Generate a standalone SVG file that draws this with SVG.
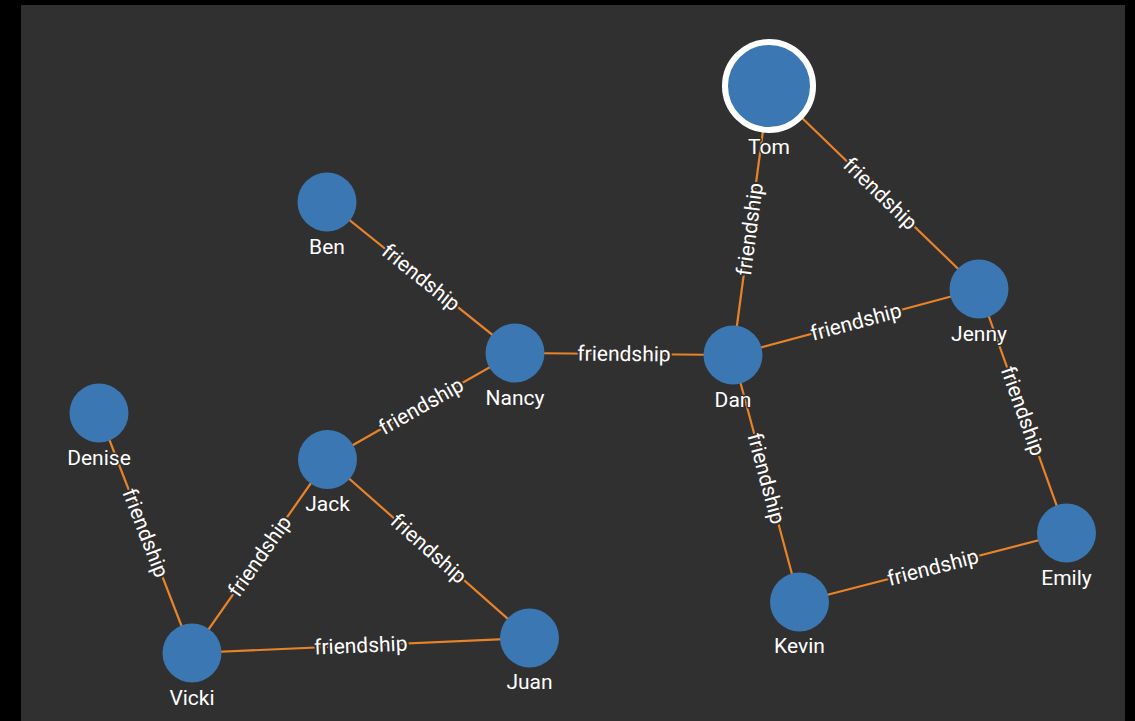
<svg xmlns="http://www.w3.org/2000/svg" width="1135" height="721" viewBox="0 0 1135 721">
<style>
.edge{stroke:#e8832a;stroke-width:2.2;fill:none}
.node{fill:#3a77b3}
.sel{fill:#3a77b3;stroke:#ffffff;stroke-width:6}
.nl{font-family:Roboto,"Liberation Sans",sans-serif;font-size:21px;fill:#ffffff;text-anchor:middle;stroke:#303030;stroke-width:3;paint-order:stroke;stroke-linejoin:round}
.el{font-family:Roboto,"Liberation Sans",sans-serif;font-size:21px;fill:#ffffff;text-anchor:middle;stroke:#303030;stroke-width:4;paint-order:stroke;stroke-linejoin:round}
</style>
<rect x="0" y="0" width="1135" height="721" fill="#000000"/>
<rect x="21" y="5" width="1104" height="716" fill="#303030"/>
<g id="connectors">
<line class="edge" x1="769" y1="86" x2="733" y2="355"/>
<line class="edge" x1="769" y1="86" x2="979" y2="289"/>
<line class="edge" x1="327" y1="202" x2="515" y2="353"/>
<line class="edge" x1="515" y1="353" x2="733" y2="355"/>
<line class="edge" x1="733" y1="355" x2="979" y2="289"/>
<line class="edge" x1="979" y1="289" x2="1066.5" y2="533"/>
<line class="edge" x1="515" y1="353" x2="327.5" y2="459.5"/>
<line class="edge" x1="733" y1="355" x2="799.5" y2="602"/>
<line class="edge" x1="799.5" y1="602" x2="1066.5" y2="533"/>
<line class="edge" x1="99" y1="413" x2="192" y2="653"/>
<line class="edge" x1="327.5" y1="459.5" x2="192" y2="653"/>
<line class="edge" x1="327.5" y1="459.5" x2="529.5" y2="638"/>
<line class="edge" x1="192" y1="653" x2="529.5" y2="638"/>
<text class="el" transform="translate(749.9,229.2) rotate(-82.4)" dy="7">friendship</text>
<text class="el" transform="translate(880.3,193.6) rotate(44)" dy="7">friendship</text>
<text class="el" transform="translate(421,277.5) rotate(38.8)" dy="7">friendship</text>
<text class="el" transform="translate(624,354) rotate(0.5)" dy="7">friendship</text>
<text class="el" transform="translate(856,322) rotate(-15)" dy="7">friendship</text>
<text class="el" transform="translate(1022.75,411) rotate(70.3)" dy="7">friendship</text>
<text class="el" transform="translate(421.25,406.25) rotate(-29.6)" dy="7">friendship</text>
<text class="el" transform="translate(766.25,478.5) rotate(74.9)" dy="7">friendship</text>
<text class="el" transform="translate(933,567.5) rotate(-14.5)" dy="7">friendship</text>
<text class="el" transform="translate(145.5,533) rotate(68.8)" dy="7">friendship</text>
<text class="el" transform="translate(259.75,556.25) rotate(-55)" dy="7">friendship</text>
<text class="el" transform="translate(428.5,548.75) rotate(41.5)" dy="7">friendship</text>
<text class="el" transform="translate(360.75,645.5) rotate(-2.5)" dy="7">friendship</text>
</g>
<g id="node-tom"><circle class="sel" cx="769" cy="86" r="44"/><text class="nl" x="769" y="154">Tom</text></g>
<g id="node-ben"><circle class="node" cx="327" cy="202" r="29.5"/><text class="nl" x="327" y="254">Ben</text></g>
<g id="node-nancy"><circle class="node" cx="515" cy="353" r="29.5"/><text class="nl" x="515" y="405">Nancy</text></g>
<g id="node-dan"><circle class="node" cx="733" cy="355" r="29.5"/><text class="nl" x="733" y="407">Dan</text></g>
<g id="node-jenny"><circle class="node" cx="979" cy="289" r="29.5"/><text class="nl" x="979" y="341">Jenny</text></g>
<g id="node-denise"><circle class="node" cx="99" cy="413" r="29.5"/><text class="nl" x="99" y="465">Denise</text></g>
<g id="node-jack"><circle class="node" cx="327.5" cy="459.5" r="29.5"/><text class="nl" x="327.5" y="511">Jack</text></g>
<g id="node-emily"><circle class="node" cx="1066.5" cy="533" r="29.5"/><text class="nl" x="1066.5" y="585">Emily</text></g>
<g id="node-kevin"><circle class="node" cx="799.5" cy="602" r="29.5"/><text class="nl" x="799.5" y="653">Kevin</text></g>
<g id="node-vicki"><circle class="node" cx="192" cy="653" r="29.5"/><text class="nl" x="192" y="705">Vicki</text></g>
<g id="node-juan"><circle class="node" cx="529.5" cy="638" r="29.5"/><text class="nl" x="529.5" y="689">Juan</text></g>
</svg>
